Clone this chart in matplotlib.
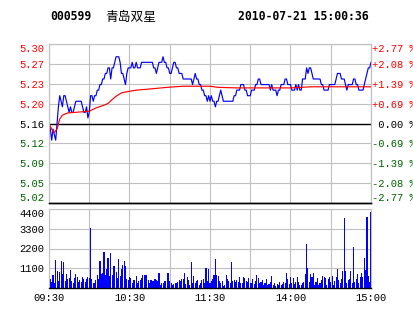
import numpy as np
import matplotlib
matplotlib.use('Agg')
import matplotlib.pyplot as plt

# quote header
code = '000599'
name = '青岛双星'
stamp = '2010-07-21 15:00:36'

prev_close = 5.16
pct_range = 0.0277

# one price per minute, 09:30-11:30 then 13:00-15:00
price_am = [5.16, 5.15, 5.13, 5.15, 5.14, 5.13, 5.16, 5.19, 5.21, 5.20,
            5.19, 5.21, 5.21, 5.20, 5.19, 5.18, 5.19, 5.18, 5.18, 5.19,
            5.20, 5.20, 5.20, 5.20, 5.20, 5.19, 5.18, 5.18, 5.19, 5.17,
            5.18, 5.21, 5.21, 5.20, 5.21, 5.21, 5.22, 5.22, 5.23, 5.23,
            5.24, 5.24, 5.25, 5.25, 5.26, 5.26, 5.24, 5.26, 5.26, 5.27,
            5.28, 5.28, 5.28, 5.27, 5.25, 5.25, 5.24, 5.23, 5.25, 5.26,
            5.26, 5.26, 5.27, 5.26, 5.26, 5.27, 5.26, 5.26, 5.26, 5.27,
            5.27, 5.27, 5.27, 5.27, 5.27, 5.27, 5.27, 5.27, 5.26, 5.26,
            5.25, 5.26, 5.27, 5.27, 5.27, 5.28, 5.27, 5.27, 5.26, 5.26,
            5.25, 5.25, 5.26, 5.27, 5.27, 5.26, 5.26, 5.25, 5.25, 5.25,
            5.24, 5.24, 5.24, 5.24, 5.24, 5.24, 5.24, 5.23, 5.24, 5.25,
            5.24, 5.24, 5.23, 5.23, 5.22, 5.22, 5.21, 5.21, 5.20, 5.21,
            5.20]
price_pm = [5.21, 5.20, 5.20, 5.19, 5.20, 5.20, 5.21, 5.22, 5.21, 5.20,
            5.20, 5.20, 5.20, 5.20, 5.20, 5.20, 5.20, 5.21, 5.21, 5.22,
            5.22, 5.22, 5.23, 5.23, 5.23, 5.22, 5.22, 5.21, 5.21, 5.21,
            5.22, 5.22, 5.22, 5.23, 5.23, 5.24, 5.24, 5.23, 5.23, 5.23,
            5.23, 5.23, 5.23, 5.23, 5.22, 5.23, 5.22, 5.22, 5.22, 5.21,
            5.22, 5.22, 5.23, 5.23, 5.23, 5.24, 5.24, 5.23, 5.23, 5.23,
            5.22, 5.22, 5.22, 5.23, 5.22, 5.23, 5.22, 5.22, 5.24, 5.24,
            5.24, 5.26, 5.25, 5.26, 5.26, 5.25, 5.24, 5.24, 5.24, 5.24,
            5.24, 5.24, 5.23, 5.23, 5.22, 5.22, 5.22, 5.22, 5.23, 5.23,
            5.23, 5.23, 5.23, 5.24, 5.25, 5.25, 5.25, 5.24, 5.24, 5.24,
            5.23, 5.22, 5.23, 5.23, 5.23, 5.23, 5.24, 5.24, 5.23, 5.23,
            5.22, 5.22, 5.22, 5.22, 5.23, 5.24, 5.25, 5.26, 5.26, 5.27]

vol_am = [500, 480, 350, 720, 300, 1560, 950, 400, 910, 1500,
          780, 1470, 400, 780, 500, 550, 1000, 400, 300, 550,
          780, 600, 350, 450, 350, 600, 500, 350, 500, 600,
          550, 3350, 500, 300, 300, 450, 720, 500, 1500, 780,
          850, 2000, 700, 1040, 1690, 650, 1930, 700, 1250, 1230,
          900, 570, 1600, 650, 1060, 1280, 1500, 1200, 480, 450,
          600, 570, 270, 460, 460, 650, 270, 370, 460, 560,
          750, 750, 750, 750, 460, 270, 460, 370, 370, 500,
          460, 370, 850, 170, 270, 270, 370, 370, 810, 810,
          370, 270, 170, 230, 270, 270, 310, 460, 370, 500,
          500, 850, 230, 620, 420, 170, 1430, 270, 650, 270,
          370, 460, 170, 270, 460, 500, 270, 1100, 370, 1050,
          270]
vol_pm = [370, 500, 750, 1640, 750, 650, 370, 270, 370, 120,
          170, 750, 500, 370, 270, 1430, 370, 460, 310, 460,
          310, 620, 270, 270, 620, 560, 370, 310, 560, 300,
          260, 500, 250, 400, 720, 550, 260, 320, 450, 170,
          300, 500, 170, 200, 320, 690, 170, 260, 130, 200,
          170, 320, 170, 200, 350, 260, 820, 500, 200, 630,
          260, 540, 250, 350, 600, 350, 170, 170, 260, 350,
          780, 2470, 1100, 350, 780, 600, 860, 170, 350, 540,
          170, 260, 450, 670, 600, 560, 170, 490, 600, 350,
          670, 170, 410, 600, 1050, 450, 260, 490, 950, 3900,
          950, 260, 450, 490, 970, 260, 2280, 350, 490, 790,
          260, 600, 860, 600, 1660, 1000, 3960, 660, 360, 4260]

# average price line, read at a few minutes
avg_min = [0, 2, 4, 6, 8, 10, 14, 30, 35, 40, 44, 47, 50, 54, 58,
           65, 75, 88, 100, 120, 126, 140, 180, 195, 240]
avg_val = [5.160, 5.150, 5.144, 5.150, 5.168, 5.175, 5.179, 5.182, 5.188,
           5.192, 5.196, 5.203, 5.209, 5.215, 5.217, 5.220, 5.222, 5.225,
           5.227, 5.227, 5.225, 5.224, 5.224, 5.226, 5.226]

price_labels = ['5.02', '5.05', '5.09', '5.12', '5.16', '5.20', '5.23', '5.27', '5.30']
pct_labels = ['-2.77 %', '-2.08 %', '-1.39 %', '-0.69 %', ' 0.00 %',
              '+0.69 %', '+1.39 %', '+2.08 %', '+2.77 %']
vol_ticks = [1100, 2200, 3300, 4400]
time_ticks = [0, 60, 120, 180, 240]
time_labels = ['09:30', '10:30', '11:30', '14:00', '15:00']

RED = '#ff0000'
GREEN = '#006400'
BLUE = '#0000ff'
GRID = '#c0c0c0'
MONO = 'Liberation Mono'

W, H = 414, 314
fig = plt.figure(figsize=(W / 100, H / 100), dpi=100)


def box(x0, y0, x1, y1):
    return [x0 / W, 1 - y1 / H, (x1 - x0) / W, (y1 - y0) / H]


def style_labels(labels, values, color_by_price=True):
    n = len(labels)
    for i, (lab, v) in enumerate(zip(labels, values)):
        lab.set_fontfamily(MONO)
        lab.set_fontsize(7.6)
        if i == n - 1:
            lab.set_verticalalignment('top')
        elif i == 0 and color_by_price:
            lab.set_verticalalignment('bottom')
        else:
            lab.set_verticalalignment('center_baseline')
        if color_by_price:
            if abs(v - prev_close) < 0.001:
                lab.set_color('black')
            elif v > prev_close:
                lab.set_color(RED)
            else:
                lab.set_color(GREEN)


price = price_am + price_pm
volume = vol_am + vol_pm
minutes = np.arange(len(price))

lo = prev_close * (1 - pct_range)
hi = prev_close * (1 + pct_range)
yt = np.linspace(lo, hi, 9)

ax = fig.add_axes(box(49, 44, 371, 203))
ax.plot(minutes, price, color=BLUE, lw=0.85, zorder=3)
ax.plot(avg_min, avg_val, color=RED, lw=0.85, zorder=4)
ax.axhline(prev_close, color='black', lw=1.0, zorder=2)
ax.set_xlim(0, 240)
ax.set_ylim(lo, hi)
ax.set_xticks(range(0, 241, 30))
ax.set_xticklabels([])
ax.set_yticks(yt)
ax.set_yticklabels(price_labels)
ax.grid(True, color=GRID, lw=0.8)
ax.set_axisbelow(True)
ax.tick_params(length=0, pad=3.5)
style_labels(ax.get_yticklabels(), yt)

ax2 = ax.twinx()
ax2.set_ylim(lo, hi)
ax2.set_yticks(yt)
ax2.set_yticklabels(pct_labels)
ax2.tick_params(length=0, pad=0.5)
style_labels(ax2.get_yticklabels(), yt)

for a in (ax, ax2):
    for s in a.spines.values():
        s.set_color(GRID)
        s.set_linewidth(0.8)
    a.spines['bottom'].set_color('black')
    a.spines['bottom'].set_linewidth(1.0)

axv = fig.add_axes(box(49, 209, 371, 288))
axv.bar(minutes, volume, width=0.8, color=BLUE, linewidth=0, antialiased=False)
axv.set_xlim(0, 240)
axv.set_ylim(0, 4400)
axv.set_yticks(vol_ticks)
axv.set_yticklabels([str(v) for v in vol_ticks])
style_labels(axv.get_yticklabels(), vol_ticks, color_by_price=False)
axv.set_xticks(range(0, 241, 30))
axv.set_xticklabels([time_labels[time_ticks.index(t)] if t in time_ticks else '' for t in range(0, 241, 30)],
                    fontfamily=MONO, fontsize=7.6)
axv.grid(True, color=GRID, lw=0.8)
axv.set_axisbelow(True)
axv.tick_params(length=0, pad=3.5)
for s in axv.spines.values():
    s.set_color(GRID)
    s.set_linewidth(0.8)
axv.spines['bottom'].set_color('black')
axv.spines['bottom'].set_linewidth(1.0)

fig.text(50 / W, 1 - 17 / H, code, family='DejaVu Sans Mono', weight='bold', size=8.3, va='center')
fig.text(105 / W, 1 - 17 / H, name, family=['Noto Sans CJK SC', 'DejaVu Sans'], size=9.2, va='center')
fig.text(238 / W, 1 - 17 / H, stamp, family='DejaVu Sans Mono', weight='bold', size=8.3, va='center')

fig.savefig('out.png', dpi=100)
